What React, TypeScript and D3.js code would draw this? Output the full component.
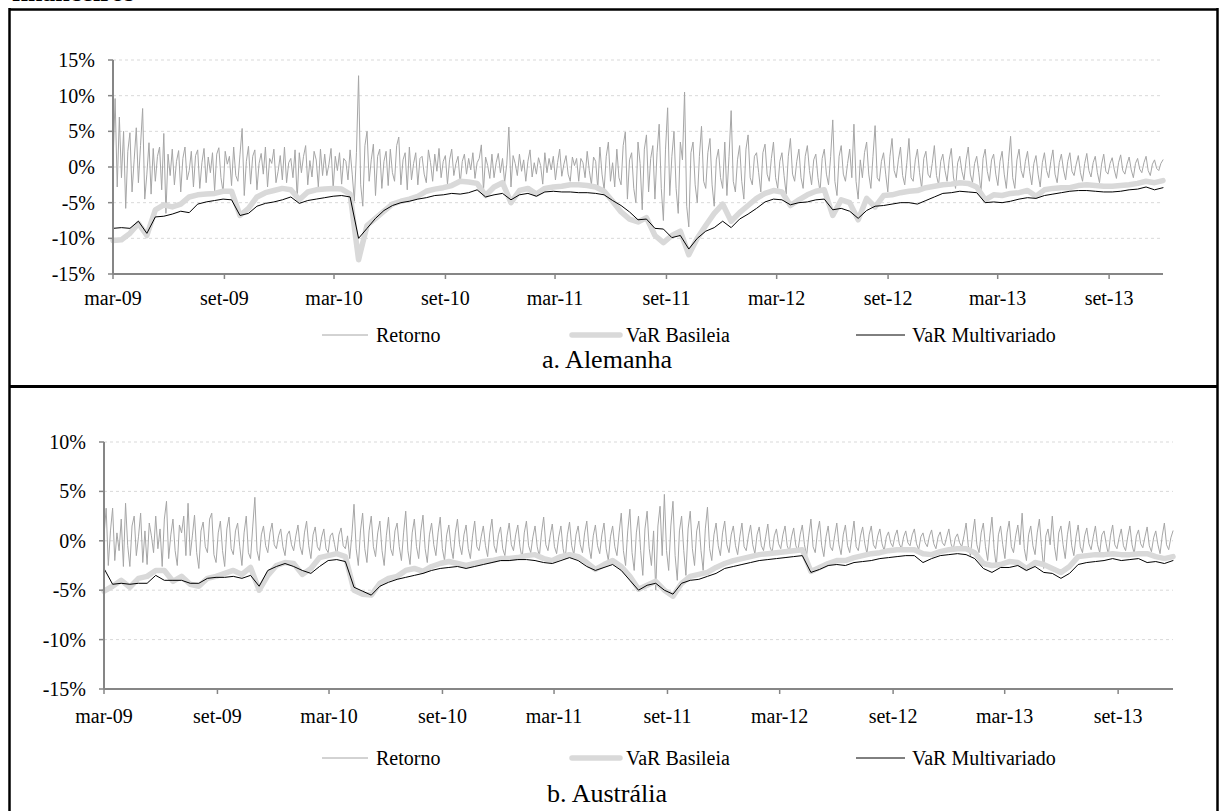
import React from 'react';
import * as d3 from 'd3';

// eixo do tempo: primeira e última observação
const START = new Date(2009, 2, 1);
const END = new Date(2013, 10, 29);

const xTickLabels = ['mar-09', 'set-09', 'mar-10', 'set-10', 'mar-11', 'set-11', 'mar-12', 'set-12', 'mar-13', 'set-13'];
const yTicksAlemanha = [-15, -10, -5, 0, 5, 10, 15];
const yTicksAustralia = [-15, -10, -5, 0, 5, 10];
const seriesNames = ['Retorno', 'VaR Basileia', 'VaR Multivariado'];

// a. Alemanha (%), retornos a cada meia semana
const alemanhaRetorno = [
  0.5, 9.6, -2.8, 7.0, -1.5, 5.0, -5.8, 2.2, 4.8, -3.5, 1.0, 5.5, -2.2, 3.0, 8.2, -4.5, -1.0, 3.4, -3.8, 2.6,
  -2.0, 1.5, 2.8, -3.2, 4.7, -6.5, 1.8, -1.2, 2.5, -2.5, 0.8, 2.3, -3.5, 1.2, 2.8, -1.8, -0.5, 2.2, -2.8, 1.6,
  2.4, -3.0, 0.6, 2.6, -2.2, 1.4, -0.8, 2.0, -3.4, 1.8, 2.7, -1.5, -3.5, 2.2, 0.4, 1.5, -2.6, 2.8, -1.2, -2.0,
  1.8, 5.4, -4.0, 0.8, 2.9, -2.4, 1.5, 2.4, -3.2, 0.5, 1.9, -1.0, 2.8, -2.8, 1.2, 0.5, 2.5, -2.2, -0.6, 1.6,
  -1.8, 2.8, -2.2, 0.6, 1.2, -1.5, 2.4, -4.5, 2.0, -0.8, 1.5, 3.0, -2.5, 0.9, -1.4, 2.2, 1.0, -2.8, 2.5, -1.2,
  1.8, -1.2, 0.4, 2.6, -3.0, 1.5, -0.5, 2.0, -2.4, 1.2, 0.8, -1.8, 2.4, -1.0, -4.8, 2.0, 12.8, -2.5, -5.5, 3.0,
  5.0, -2.0, 1.0, 3.2, -4.0, 1.5, 2.5, -3.0, 0.8, 2.2, -2.6, 2.5, -0.8, -2.0, 3.0, 4.2, -2.5, 1.0, 2.0, -3.2,
  2.8, -1.8, 0.5, 2.0, -2.5, 1.2, 1.5, -1.0, -2.2, 2.4, 0.6, -2.0, 1.8, -0.6, 2.6, -1.5, 0.8, 1.6, -2.4, 1.0,
  2.5, -1.2, 0.5, 1.5, -2.3, 0.8, 1.8, -1.0, 1.2, -0.4, 2.0, -1.6, 0.6, 1.2, 3.1, -3.3, 1.4, 0.2, -1.6, 1.8,
  -1.5, 0.6, 1.9, -0.8, 1.2, -2.2, 0.4, 5.6, -2.8, 1.6, 0.5, -1.2, 1.8, -0.6, 1.0, -2.0, 0.8, 2.4, -1.4, 0.6,
  -1.0, 1.3, 0.2, -2.4, 2.0, -0.8, 1.2, -0.4, 1.5, -1.8, 0.6, 2.5, -1.3, 0.4, 1.6, -1.0, -2.0, 1.4, 0.2, 1.2,
  -2.0, 1.2, 0.6, -1.5, 2.2, -0.5, -2.5, 1.4, 0.8, -3.0, 2.8, -1.0, -3.2, 1.5, 3.5, -2.0, 0.6, -2.8, 2.5, -1.5,
  -2.5, 3.0, 4.9, -4.5, 1.0, 2.0, -3.0, -5.0, 3.5, 0.5, -6.0, 2.5, 4.5, -3.5, 1.2, 3.0, -4.5, 2.0, 6.0, -3.0,
  -7.5, 2.5, 8.3, -4.0, 1.5, 5.0, -3.0, -6.5, 3.5, 1.0, 10.5, -5.5, -8.4, 2.0, 3.5, -2.5, -5.0, 1.5, 5.7, -2.0,
  -3.0, 2.0, 4.0, -2.5, -5.5, 1.0, 2.5, -1.5, -3.0, 3.5, -4.0, 1.5, 7.9, -2.0, -3.5, 1.0, 3.0, -2.0, -4.5, 2.5,
  4.5, -1.5, -2.5, 1.5, 2.0, -0.8, -3.5, 2.0, 3.2, -1.0, -2.0, 1.2, 3.5, -1.5, -3.0, 0.8, 2.0, -1.2, -3.8, 1.5,
  4.0, -1.0, -2.0, 0.8, 2.5, -1.5, -3.0, 1.5, 3.0, -0.5, -2.5, 1.0, 1.8, -1.5, -3.5, 1.2, 2.5, -1.0, -2.5, 1.5,
  6.6, -2.0, -4.0, 1.5, 3.0, -1.0, -2.0, 0.5, 2.5, -1.5, 6.0, -2.0, -4.5, 1.0, -1.5, 2.0, 3.5, -1.0, -3.0, 1.5,
  5.8, -1.5, -2.0, 0.8, 2.0, -1.0, -3.5, 1.5, 4.0, -0.5, -1.5, 1.0, 2.8, -1.2, -2.5, 0.6, 4.0, -1.5, -2.0, 1.0,
  2.5, -0.8, -3.0, 1.2, 2.2, -1.0, -1.5, 0.5, 3.0, -1.2, -2.5, 0.8, 1.8, -0.5, -2.0, 1.0, 2.6, -1.4, -3.0, 0.6,
  1.5, -0.6, -1.8, 1.0, 2.8, -1.0, -2.2, 0.5, 1.5, -0.8, -3.5, 1.2, 2.5, -0.6, -2.0, 1.0, 1.8, -1.0, -2.6, 0.8,
  2.2, -1.0, -3.0, 0.8, 4.3, -1.5, -3.0, 1.0, 2.5, -0.5, -1.5, 0.8, 2.2, -0.6, -2.5, 0.5, 1.6, -1.0, -2.8, 0.6,
  2.0, -0.5, -1.5, 0.8, 2.4, -1.0, -2.2, 0.6, 1.8, -0.4, -1.8, 0.8, 2.0, -0.6, -1.2, 0.4, 1.6, -0.8, -2.0, 0.5,
  1.9, -0.5, -1.4, 0.6, 1.5, -0.8, -2.2, 0.4, 1.8, -0.6, -1.0, 0.5, 1.3, -0.4, -1.6, 0.6, 1.7, -0.5, -1.0, 0.4,
  1.4, -0.4, -1.5, 0.5, 1.2, -0.3, -0.8, 0.6, 1.5, -0.5, -1.2, 0.4, 1.0, -0.2, -0.5, 0.5, 1.0,
];

// VaR a cada duas semanas
const alemanhaBasileia = [
  -10.3, -10.2, -9.3, -7.9, -9.6, -6.0, -5.3, -5.6, -5.2, -4.2,
  -3.9, -3.8, -3.7, -3.4, -3.4, -6.8, -5.8, -4.2, -3.6, -3.3,
  -3.0, -3.2, -4.6, -3.5, -3.2, -3.1, -3.0, -3.1, -3.8, -13.0,
  -8.2, -7.2, -6.2, -5.2, -4.8, -4.5, -4.1, -3.4, -3.1, -2.9,
  -2.6, -2.0, -2.1, -2.3, -4.0, -2.8, -2.2, -5.0, -3.3, -3.0,
  -3.8, -3.0, -2.8, -2.7, -2.5, -2.5, -2.6, -2.8, -3.4, -4.8,
  -6.3, -7.3, -7.7, -7.1, -9.6, -10.6, -9.6, -9.0, -12.3, -10.0,
  -8.2, -6.5, -5.2, -7.6, -6.4, -5.4, -4.4, -3.7, -3.3, -3.5,
  -5.4, -4.6, -3.9, -3.4, -3.2, -6.8, -4.6, -5.0, -7.4, -4.4,
  -5.6, -4.0, -3.9, -3.6, -3.4, -3.3, -2.9, -2.7, -2.5, -2.4,
  -2.2, -2.3, -2.8, -4.6, -3.9, -4.0, -3.7, -3.6, -3.3, -4.1,
  -3.2, -3.0, -2.9, -2.9, -2.6, -2.5, -2.6, -2.7, -2.7, -2.6,
  -2.5, -2.3, -2.0, -2.2, -1.9,
];

const alemanhaMultivariado = [
  -8.6, -8.5, -8.6, -7.6, -9.3, -7.0, -6.9, -6.6, -6.2, -6.4,
  -5.2, -4.9, -4.7, -4.5, -4.6, -6.8, -6.5, -5.5, -5.1, -4.9,
  -4.6, -4.2, -5.1, -4.7, -4.5, -4.3, -4.1, -4.0, -4.2, -10.0,
  -8.6, -7.2, -6.1, -5.4, -5.0, -4.8, -4.5, -4.3, -4.0, -3.9,
  -3.7, -3.8, -3.6, -3.2, -4.2, -3.9, -3.7, -4.6, -3.9, -3.7,
  -4.1, -3.5, -3.4, -3.5, -3.5, -3.6, -3.6, -3.7, -3.9, -4.7,
  -5.4, -6.3, -7.4, -7.3, -8.6, -8.7, -9.9, -9.6, -11.5, -10.0,
  -9.0, -8.5, -7.6, -8.5, -7.3, -6.6, -5.8, -4.9, -4.5, -4.6,
  -5.3, -5.0, -4.9, -4.6, -4.5, -6.0, -5.8, -6.2, -7.2, -6.1,
  -5.5, -5.4, -5.2, -5.0, -5.0, -5.2, -4.7, -4.2, -3.7, -3.6,
  -3.4, -3.5, -3.6, -5.0, -4.9, -5.0, -4.8, -4.5, -4.3, -4.4,
  -4.0, -3.8, -3.6, -3.4, -3.3, -3.3, -3.4, -3.5, -3.5, -3.4,
  -3.2, -3.1, -2.8, -3.2, -2.9,
];

// b. Austrália (%)
const australiaRetorno = [
  0.5, 3.3, -2.5, 1.0, 3.3, -2.0, 0.8, -1.0, 2.2, -2.6, 3.8, -0.5, -2.6, 1.5, 2.5, -1.5, 0.4, 2.8, -2.2, 1.0,
  -2.4, 1.8, 0.5, -1.2, 2.5, -0.8, 1.2, -2.6, 2.2, 4.0, -1.8, 0.6, 2.2, -1.0, -2.5, 1.6, 0.8, 2.5, -1.5, 3.8,
  -1.5, 0.5, 2.6, -1.2, -2.8, 1.0, 1.9, -0.6, -1.2, 2.2, 2.8, -1.4, -2.2, 0.8, 2.0, -1.0, -2.6, 1.2, 2.4, -0.8,
  -1.4, 1.0, 1.8, -0.6, -2.5, 0.8, 2.5, -1.2, -1.8, 1.4, 4.4, -1.0, -2.0, 0.6, 1.5, -0.5, -1.2, 0.8, 1.8, -0.4,
  -0.8, 0.5, 1.2, -0.6, -1.5, 0.6, 1.0, -0.4, -1.0, 0.5, 1.6, -0.6, -1.4, 0.8, 2.0, -0.5, -1.8, 0.6, 1.4, -0.6,
  -1.0, 0.4, 1.2, -0.8, -1.2, 0.5, 0.8, -0.4, -1.5, 0.6, 1.3, -0.5, -0.8, 0.5, -1.8, 0.6, 3.7, -0.8, -2.5, 1.0,
  2.8, -0.8, -2.2, 1.0, 2.5, -0.6, -1.6, 0.8, 2.0, -1.0, -2.5, 0.5, 2.4, -0.8, -1.5, 1.0, 1.8, -0.6, -2.0, 0.8,
  3.0, -1.0, -2.4, 0.8, 2.2, -0.6, -1.8, 1.0, 2.6, -0.8, -2.2, 0.6, 1.8, -0.4, -1.5, 0.8, 2.4, -0.8, -2.0, 0.6,
  1.6, -0.6, -1.8, 0.8, 2.2, -0.4, -1.4, 0.6, 1.6, -0.8, -1.8, 0.5, 2.0, -0.6, -1.0, 0.4, 1.5, -0.5, -1.6, 0.8,
  2.2, -0.5, -1.2, 0.6, 1.4, -0.8, -1.5, 0.5, 1.8, -0.4, -1.0, 0.6, 1.6, -0.6, -1.8, 0.8, 2.0, -0.5, -1.2, 0.4,
  1.5, -0.6, -1.6, 0.8, 2.4, -0.4, -1.0, 0.5, 1.7, -0.6, -1.3, 0.4, 1.5, -0.8, -1.8, 0.6, 1.9, -0.5, -1.4, 0.6,
  1.5, -0.4, -1.2, 0.8, 2.0, -0.6, -1.8, 0.5, 1.6, -0.5, -1.3, 0.6, 1.8, -0.8, -2.0, 0.4, 1.5, -0.6, -1.5, 0.8,
  2.8, -1.0, -2.5, 1.0, 3.2, -1.2, -3.0, 0.8, 2.5, -1.0, -3.5, 1.2, 3.0, -0.8, -2.5, 1.0, -5.0, 1.5, 3.5, -1.5,
  4.7, -1.0, -3.0, 1.5, 4.0, -1.5, -4.0, 1.0, 2.5, -1.0, -3.5, 1.2, 3.0, -0.8, -2.5, 1.0, 2.0, -1.0, -3.0, 1.2,
  3.4, -0.8, -2.0, 0.6, 1.8, -0.5, -1.5, 0.8, 2.0, -0.4, -1.2, 0.6, 1.5, -0.5, -1.4, 0.4, 1.8, -0.6, -1.0, 0.5,
  1.6, -0.4, -1.3, 0.6, 1.4, -0.5, -1.0, 0.4, 1.7, -0.6, -1.2, 0.5, 1.2, -0.3, -0.8, 0.6, 1.5, -0.5, -1.1, 0.4,
  1.3, -0.5, -1.0, 0.6, 1.6, -0.4, -1.5, 0.5, 2.2, -0.6, -1.2, 0.8, 2.0, -0.5, -1.6, 0.4, 1.5, -0.6, -1.0, 0.5,
  1.8, -0.4, -1.4, 0.6, 1.6, -0.5, -1.2, 0.4, 2.0, -0.6, -1.0, 0.5, 1.4, -0.3, -1.3, 0.6, 1.5, -0.4, -0.8, 0.5,
  1.2, -0.3, -1.0, 0.4, 0.9, -0.2, -0.6, 0.5, 1.1, -0.3, -0.8, 0.4, 1.0, -0.2, -0.5, 0.6, 1.2, -0.3, -0.9, 0.4,
  0.8, -0.2, -0.6, 0.5, 1.1, -0.3, -0.8, 0.4, 0.9, -0.2, -0.5, 0.4, 1.2, -0.3, -0.9, 0.3, 0.7, -0.2, -0.6, 0.5,
  1.8, -0.5, -1.5, 0.6, 2.2, -0.4, -1.2, 0.8, 1.8, -0.6, -2.0, 0.5, 2.4, -0.8, -2.6, 0.6, 1.5, -0.4, -1.8, 0.8,
  2.0, -0.6, -1.2, 0.5, 1.6, -0.4, 2.8, -0.8, -2.0, 0.6, 1.5, -0.5, -1.4, 0.8, 2.2, -0.6, -2.8, 0.5, 1.2, -0.4,
  2.5, -0.6, -2.0, 0.8, 1.5, -0.4, -1.8, 0.6, 2.0, -0.5, -1.5, 0.4, 1.6, -0.6, -1.2, 0.5, 1.3, -0.3, -0.9, 0.4,
  1.5, -0.4, -1.2, 0.6, 1.0, -0.3, -1.4, 0.5, 1.6, -0.4, -0.8, 0.3, 1.2, -0.5, -1.0, 0.4, 1.5, -0.4, -1.3, 0.5,
  1.1, -0.3, -0.7, 0.4, 1.4, -0.5, -1.1, 0.3, 1.0, -0.4, -1.3, 0.5, 1.8, -0.4, -0.9, 0.3, 1.0,
];

const australiaBasileia = [
  -5.1, -4.6, -4.0, -4.7, -3.8, -3.6, -3.0, -3.0, -4.1, -3.6,
  -4.4, -4.6, -3.8, -3.6, -3.3, -3.0, -3.4, -2.7, -5.0, -3.5,
  -2.5, -2.2, -2.3, -3.4, -2.8, -1.7, -1.5, -1.3, -1.6, -5.0,
  -5.4, -5.5, -4.3, -3.8, -3.6, -3.0, -2.8, -3.1, -2.6, -2.3,
  -2.1, -2.3, -2.5, -2.3, -2.1, -2.0, -1.8, -1.8, -1.7, -1.5,
  -1.4, -1.8, -2.0, -1.6, -1.4, -1.6, -2.2, -2.9, -2.4, -2.0,
  -2.6, -3.6, -4.9, -4.5, -4.1, -5.0, -5.6, -4.3, -3.6, -3.4,
  -3.2, -2.7, -2.3, -2.0, -1.8, -1.6, -1.4, -1.3, -1.2, -1.1,
  -1.0, -0.9, -3.1, -2.7, -2.3, -2.0, -2.0, -1.7, -1.5, -1.3,
  -1.2, -1.0, -0.9, -0.9, -0.9, -1.3, -1.4, -1.1, -0.9, -0.8,
  -0.8, -1.2, -2.3, -2.5, -2.4, -2.1, -2.2, -2.8, -2.2, -2.4,
  -2.8, -3.2, -2.6, -1.6, -1.5, -1.4, -1.4, -1.3, -1.4, -1.4,
  -1.3, -1.3, -1.6, -1.8, -1.6,
];

const australiaMultivariado = [
  -2.8, -4.4, -4.3, -4.4, -4.3, -4.3, -3.5, -4.0, -4.0, -4.0,
  -4.3, -4.3, -3.8, -3.7, -3.7, -3.6, -3.8, -3.5, -4.6, -3.0,
  -2.6, -2.3, -2.6, -3.0, -3.3, -2.6, -2.0, -1.9, -2.1, -4.7,
  -5.1, -5.5, -4.6, -4.2, -3.9, -3.7, -3.5, -3.3, -3.0, -2.8,
  -2.7, -2.6, -2.8, -2.6, -2.4, -2.2, -2.0, -2.0, -1.9, -1.9,
  -2.0, -2.2, -2.3, -2.0, -1.7, -2.0, -2.6, -3.0, -2.7, -2.4,
  -3.0, -4.0, -5.0, -4.5, -4.3, -5.0, -5.4, -4.3, -4.0, -3.9,
  -3.6, -3.3, -2.8, -2.6, -2.4, -2.2, -2.0, -1.9, -1.8, -1.7,
  -1.6, -1.5, -3.2, -2.9, -2.5, -2.4, -2.5, -2.2, -2.1, -2.0,
  -1.8, -1.7, -1.6, -1.5, -1.5, -2.2, -1.8, -1.5, -1.4, -1.3,
  -1.4, -1.8, -2.8, -3.2, -2.7, -2.7, -2.5, -3.0, -2.6, -3.2,
  -3.3, -3.8, -3.3, -2.4, -2.2, -2.1, -2.0, -1.8, -2.0, -1.9,
  -1.8, -2.2, -2.1, -2.3, -2.0,
];

const FONT = "'Liberation Serif', 'Times New Roman', serif";

const seriesStyle = [
  { stroke: '#a6a6a6', width: 1 },
  { stroke: '#d9d9d9', width: 5.5 },
  { stroke: '#000000', width: 1 },
];

// legenda: início da linha, fim da linha, início do texto
const legendPos = [
  [322, 368, 376],
  [572, 620, 626],
  [856, 905, 912],
];

const monthOf = { mar: 2, set: 8 };
const tickDate = (label) => new Date(2000 + Number(label.slice(4)), monthOf[label.slice(0, 3)], 1);

const Panel = ({ frame, retorno, basileia, multi, yTicks, title }) => {
  const { left, right, top, bottom, tickY, legendY, titleY } = frame;
  const x = d3.scaleTime().domain([START, END]).range([left, right]);
  const y = d3.scaleLinear().domain([yTicks[0], yTicks[yTicks.length - 1]]).range([bottom, top]);

  // cada série cobre todo o período, pontos igualmente espaçados
  const span = END.getTime() - START.getTime();
  const toPoints = (vals) => vals.map((v, i) => [new Date(START.getTime() + (i * span) / (vals.length - 1)), v]);
  const line = d3.line().x((d) => x(d[0])).y((d) => y(d[1]));

  const series = [retorno, basileia, multi];

  return (
    <g>
      {/* grade */}
      {yTicks.slice(1).map((t) => (
        <line key={'g' + t} x1={left} x2={right} y1={y(t)} y2={y(t)} stroke="#d9d9d9" strokeDasharray="3,3" strokeWidth={1} />
      ))}

      {series.map((vals, i) => (
        <path key={'s' + i} d={line(toPoints(vals))} fill="none" stroke={seriesStyle[i].stroke}
          strokeWidth={seriesStyle[i].width} strokeLinejoin="round" strokeLinecap="round" />
      ))}

      {/* eixos */}
      <line x1={left} x2={left} y1={top} y2={bottom} stroke="#868686" strokeWidth={2} />
      <line x1={left} x2={right} y1={bottom} y2={bottom} stroke="#868686" strokeWidth={2} />
      {yTicks.map((t) => (
        <g key={'y' + t}>
          <line x1={left - 5} x2={left} y1={y(t)} y2={y(t)} stroke="#868686" strokeWidth={1.5} />
          <text x={left - 18} y={y(t)} dy="0.35em" textAnchor="end" fontSize={20} fontFamily={FONT}>{t + '%'}</text>
        </g>
      ))}
      {xTickLabels.map((lbl) => {
        const px = x(tickDate(lbl));
        return (
          <g key={lbl}>
            <line x1={px} x2={px} y1={bottom} y2={bottom + 5} stroke="#868686" strokeWidth={1.5} />
            <text x={px} y={tickY} textAnchor="middle" fontSize={20} fontFamily={FONT}>{lbl}</text>
          </g>
        );
      })}

      {/* legenda */}
      {seriesNames.map((name, i) => (
        <g key={name}>
          <line x1={legendPos[i][0]} x2={legendPos[i][1]} y1={legendY} y2={legendY} stroke={seriesStyle[i].stroke}
            strokeWidth={seriesStyle[i].width} strokeLinecap={i === 1 ? 'round' : 'butt'} />
          <text x={legendPos[i][2]} y={legendY} dy="0.33em" fontSize={20} fontFamily={FONT}>{name}</text>
        </g>
      ))}

      <text x={607} y={titleY} textAnchor="middle" fontSize={26} fontFamily={FONT}>{title}</text>
    </g>
  );
};

const alemanhaFrame = { left: 113, right: 1163, top: 60, bottom: 274, tickY: 305, legendY: 335, titleY: 368 };
const australiaFrame = { left: 104, right: 1173, top: 442, bottom: 689, tickY: 723, legendY: 758, titleY: 802 };

export default function App() {
  return (
    <svg width={1219} height={811} style={{ position: 'absolute', left: 0, top: 0, background: '#fff' }}>
      <rect width={1219} height={811} fill="#fff" />
      <text x={12} y={1} fontSize={26} fontWeight="bold" fontFamily={FONT}>financeiros</text>

      {/* moldura */}
      <line x1={9.5} x2={1217.5} y1={9.5} y2={9.5} stroke="#000" strokeWidth={2.5} />
      <line x1={9.5} x2={9.5} y1={8} y2={812} stroke="#000" strokeWidth={2.5} />
      <line x1={1217.5} x2={1217.5} y1={8} y2={812} stroke="#000" strokeWidth={2.5} />
      <line x1={9.5} x2={1217.5} y1={386.5} y2={386.5} stroke="#000" strokeWidth={3} />

      <Panel frame={alemanhaFrame} retorno={alemanhaRetorno} basileia={alemanhaBasileia}
        multi={alemanhaMultivariado} yTicks={yTicksAlemanha} title="a. Alemanha" />
      <Panel frame={australiaFrame} retorno={australiaRetorno} basileia={australiaBasileia}
        multi={australiaMultivariado} yTicks={yTicksAustralia} title="b. Austrália" />
    </svg>
  );
}
